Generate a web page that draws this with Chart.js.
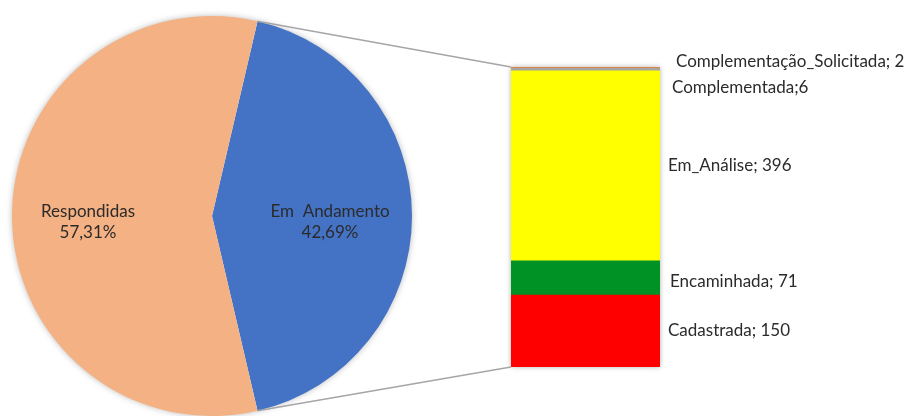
<!DOCTYPE html>
<html><head><meta charset="utf-8">
<script src="https://cdn.jsdelivr.net/npm/chart.js@4/dist/chart.umd.min.js"></script>
<style>
html,body{margin:0;padding:0;background:#fff;}
#wrap{position:relative;width:907px;height:416px;}
#wrap canvas{position:absolute;left:0;top:0;}
</style></head>
<body>
<div id="wrap">
<canvas id="pie" width="907" height="416"></canvas>
<canvas id="bar" width="907" height="416"></canvas>
</div>
<script>
// ---- data ----
const pieLabels = ['Em  Andamento', 'Respondidas'];
const pieValues = [42.69, 57.31];
const pieColors = ['#4472C4', '#F4B183'];

const barLabels = ['Cadastrada', 'Encaminhada', 'Em_Análise', 'Complementada', 'Complementação_Solicitada'];
const barValues = [150, 71, 396, 6, 2];
const barSeparators = ['; ', '; ', '; ', ';', '; '];
const barColors = ['#FF0000', '#009225', '#FFFF00', '#A5A5A5', '#ED7D31'];

// ---- style ----
const FONT = 'Lato, "Open Sans", sans-serif';
const TEXT = '#2b2b2b';
const barLabelDY = [0, 4, 0, 18, -6];
const barLabelDX = [8, 10, 8, 12, 16];

Chart.defaults.animation = false;
Chart.defaults.font.family = FONT;

const fmtPct = v => v.toFixed(2).replace('.', ',') + '%';
const barTotal = barValues.reduce((a, b) => a + b, 0);

const pieShadow = {
  id: 'pieShadow',
  beforeDatasetsDraw(chart) {
    const a = chart.getDatasetMeta(0).data[0];
    const ctx = chart.ctx;
    ctx.save();
    ctx.shadowColor = 'rgba(0,0,0,0.35)';
    ctx.shadowBlur = 7;
    ctx.fillStyle = '#ffffff';
    ctx.beginPath();
    ctx.arc(a.x, a.y, a.outerRadius - 1, 0, Math.PI * 2);
    ctx.fill();
    ctx.restore();
  }
};

const pieText = {
  id: 'pieText',
  afterDatasetsDraw(chart) {
    const ctx = chart.ctx;
    ctx.save();
    ctx.font = '17px ' + FONT;
    ctx.fillStyle = TEXT;
    ctx.textAlign = 'center';
    ctx.textBaseline = 'middle';
    chart.getDatasetMeta(0).data.forEach((arc, i) => {
      const mid = (arc.startAngle + arc.endAngle) / 2;
      const r = arc.outerRadius * (i === 0 ? 0.59 : 0.62);
      const x = arc.x + Math.cos(mid) * r;
      const y = arc.y + Math.sin(mid) * r + 6;
      ctx.fillText(pieLabels[i], x, y - 10.5);
      ctx.fillText(fmtPct(pieValues[i]), x, y + 10.5);
    });
    ctx.restore();
  }
};

const pieChart = new Chart(document.getElementById('pie'), {
  type: 'pie',
  data: {
    labels: pieLabels,
    datasets: [{ data: pieValues, backgroundColor: pieColors, borderWidth: 0 }]
  },
  options: {
    responsive: false,
    rotation: 90 - (pieValues[0] / 100) * 180,
    layout: { padding: { left: 12, right: 495, top: 16, bottom: 0 } },
    plugins: { legend: { display: false }, tooltip: { enabled: false } }
  },
  plugins: [pieShadow, pieText]
});

const barDecor = {
  id: 'barDecor',
  beforeDatasetsDraw(chart) {
    const ca = chart.chartArea;
    const ctx = chart.ctx;
    ctx.save();
    ctx.shadowColor = 'rgba(0,0,0,0.3)';
    ctx.shadowBlur = 5;
    ctx.fillStyle = '#ffffff';
    ctx.fillRect(ca.left, ca.top, ca.right - ca.left, ca.bottom - ca.top);
    ctx.restore();
  },
  afterDatasetsDraw(chart) {
    const ctx = chart.ctx;
    // connector lines from the blue slice to the bar
    const arc = pieChart.getDatasetMeta(0).data[0];
    const yScale = chart.scales.y;
    const first = chart.getDatasetMeta(0).data[0];
    const left = first.x - first.width / 2;
    const topY = yScale.getPixelForValue(barTotal);
    const botY = yScale.getPixelForValue(0);
    ctx.save();
    ctx.strokeStyle = '#A6A6A6';
    ctx.lineWidth = 1.5;
    ctx.beginPath();
    ctx.moveTo(arc.x + Math.cos(arc.startAngle) * arc.outerRadius, arc.y + Math.sin(arc.startAngle) * arc.outerRadius);
    ctx.lineTo(left, topY);
    ctx.moveTo(arc.x + Math.cos(arc.endAngle) * arc.outerRadius, arc.y + Math.sin(arc.endAngle) * arc.outerRadius);
    ctx.lineTo(left, botY);
    ctx.stroke();
    // labels
    ctx.font = '17px ' + FONT;
    ctx.fillStyle = TEXT;
    ctx.textAlign = 'left';
    ctx.textBaseline = 'middle';
    chart.data.datasets.forEach((ds, i) => {
      const el = chart.getDatasetMeta(i).data[0];
      const right = el.x + el.width / 2;
      const cy = (el.y + el.base) / 2;
      ctx.fillText(barLabels[i] + barSeparators[i] + barValues[i], right + barLabelDX[i], cy + barLabelDY[i]);
    });
    ctx.restore();
  }
};

new Chart(document.getElementById('bar'), {
  type: 'bar',
  data: {
    labels: [''],
    datasets: barLabels.map((l, i) => ({
      label: l,
      data: [barValues[i]],
      backgroundColor: barColors[i],
      borderWidth: 0,
      categoryPercentage: 1,
      barPercentage: 1
    }))
  },
  options: {
    responsive: false,
    layout: { padding: { left: 511, right: 247, top: 67, bottom: 49 } },
    scales: {
      x: { stacked: true, display: false },
      y: { stacked: true, display: false, min: 0, max: barTotal }
    },
    plugins: { legend: { display: false }, tooltip: { enabled: false } }
  },
  plugins: [barDecor]
});
</script>
</body></html>
